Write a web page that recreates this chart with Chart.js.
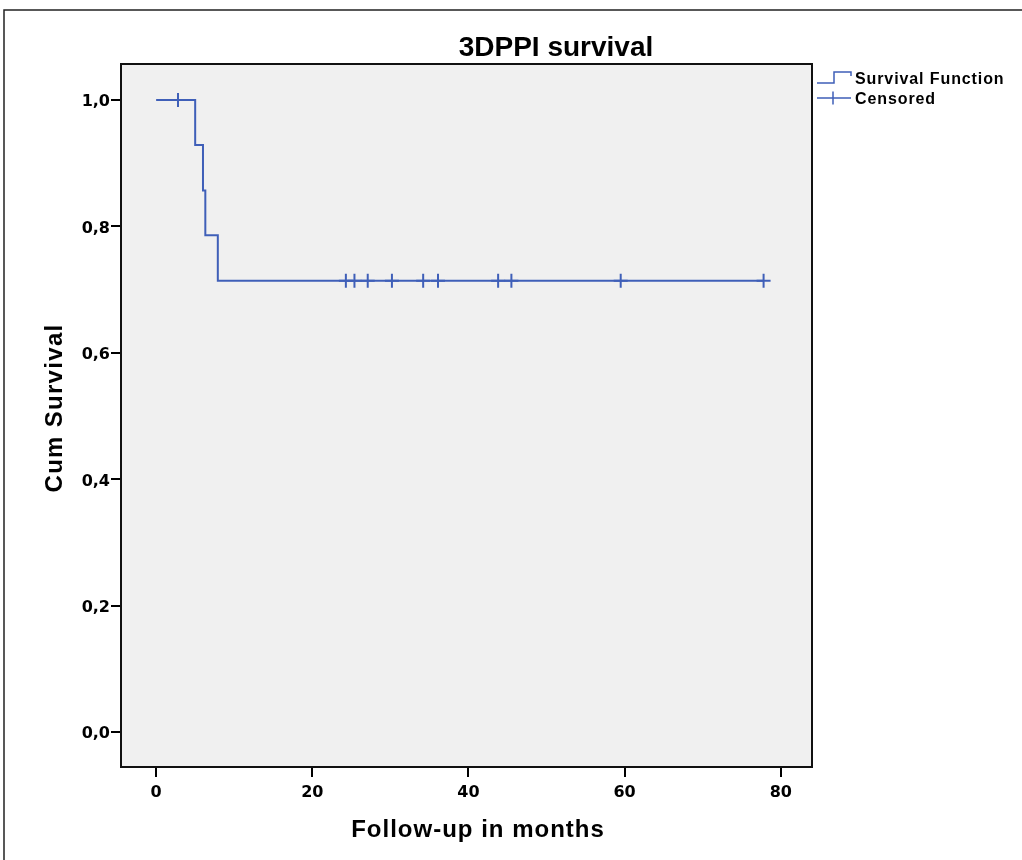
<!DOCTYPE html>
<html>
<head>
<meta charset="utf-8">
<script src="https://cdn.jsdelivr.net/npm/chart.js@4"></script>
<style>
  body { margin: 0; background: #fff; }
  #wrap { width: 1022px; height: 860px; }
</style>
</head>
<body>
<div id="wrap"><canvas id="km" width="1022" height="860"></canvas></div>
<script>
// values
const stepTimes = [0, 5.0, 6.0, 6.3, 7.9, 77.8];
const stepSurvival = [1.0, 0.929, 0.857, 0.786, 0.714, 0.714];
const censorTimes = [2.8, 24.3, 25.4, 27.1, 30.2, 34.2, 36.1, 43.8, 45.5, 59.5, 77.8];
const censorSurvival = [1.0, 0.714, 0.714, 0.714, 0.714, 0.714, 0.714, 0.714, 0.714, 0.714, 0.714];
const xTicks = [0, 20, 40, 60, 80];
const yTicks = [0, 0.2, 0.4, 0.6, 0.8, 1.0];

const blue = "#3f5fb8";

var ctx = document.getElementById("km").getContext("2d");

// background, frame, titles and legend drawn by hand
const decor = {
  id: "decor",
  beforeDraw(chart) {
    const c = chart.ctx, a = chart.chartArea;
    c.save();
    c.fillStyle = "#fff";
    c.fillRect(0, 0, chart.width, chart.height);
    c.fillStyle = "#f0f0f0";
    c.fillRect(a.left, a.top, a.right - a.left, a.bottom - a.top);
    // outer frame
    c.strokeStyle = "#222";
    c.lineWidth = 1.5;
    c.beginPath();
    c.moveTo(4, chart.height + 2);
    c.lineTo(4, 10);
    c.lineTo(chart.width + 2, 10);
    c.stroke();
    c.restore();
  },
  beforeDatasetsDraw(chart) {
    const c = chart.ctx, a = chart.chartArea;
    c.save();
    c.strokeStyle = "#111";
    c.lineWidth = 2;
    c.strokeRect(a.left, a.top, a.right - a.left, a.bottom - a.top);
    c.restore();
  },
  afterDraw(chart) {
    const c = chart.ctx;
    c.save();
    c.fillStyle = "#000";
    // title
    c.font = "bold 28px 'Liberation Sans', Arial, sans-serif";
    c.textAlign = "center";
    c.textBaseline = "alphabetic";
    c.letterSpacing = "0px";
    c.fillText("3DPPI survival", 556, 56);
    // axis titles
    c.font = "bold 24px 'Liberation Sans', Arial, sans-serif";
    c.letterSpacing = "1px";
    c.fillText("Follow-up in months", 478, 837);
    c.translate(62, 408);
    c.rotate(-Math.PI / 2);
    c.letterSpacing = "1.3px";
    c.fillText("Cum Survival", 0, 0);
    c.restore();

    // legend
    c.save();
    c.strokeStyle = blue;
    c.lineWidth = 1.5;
    c.beginPath();
    c.moveTo(817, 83);
    c.lineTo(834, 83);
    c.lineTo(834, 72);
    c.lineTo(851, 72);
    c.lineTo(851, 76);
    c.stroke();
    c.beginPath();
    c.moveTo(817, 98);
    c.lineTo(851, 98);
    c.moveTo(833, 91.5);
    c.lineTo(833, 104.5);
    c.stroke();
    c.fillStyle = "#000";
    c.font = "bold 16px 'Liberation Sans', Arial, sans-serif";
    c.letterSpacing = "0.9px";
    c.textAlign = "left";
    c.fillText("Survival Function", 855, 84);
    c.fillText("Censored", 855, 104);
    c.restore();
  }
};

var config = {
  type: "scatter",
  data: {
    datasets: [
      {
        label: "Survival Function",
        data: stepTimes.map((t, i) => ({ x: t, y: stepSurvival[i] })),
        showLine: true,
        stepped: "before", // horizontal first, then the drop
        borderColor: blue,
        borderWidth: 2,
        pointRadius: 0,
        fill: false,
      },
      {
        label: "Censored",
        data: censorTimes.map((t, i) => ({ x: t, y: censorSurvival[i] })),
        showLine: false,
        pointStyle: "cross",
        pointRadius: 7,
        borderColor: blue,
        borderWidth: 2,
      },
    ],
  },
  options: {
    responsive: false,
    animation: false,
    layout: { padding: { left: 0, top: 64, right: 210, bottom: 0 } },
    plugins: {
      legend: { display: false },
      title: { display: false },
      tooltip: { enabled: false },
    },
    scales: {
      x: {
        type: "linear",
        min: -4.5,
        max: 84,
        afterBuildTicks: (s) => { s.ticks = xTicks.map((v) => ({ value: v })); },
        afterFit: (s) => { s.height = 93; },
        border: { display: false },
        grid: { drawOnChartArea: false, drawTicks: true, tickLength: 10, color: "#000", lineWidth: 2 },
        ticks: {
          color: "#000",
          padding: 6,
          maxRotation: 0,
          font: { family: "'DejaVu Sans'", weight: "bold", size: 16 },
        },
      },
      y: {
        min: -0.055,
        max: 1.057,
        afterBuildTicks: (s) => { s.ticks = yTicks.map((v) => ({ value: v })); },
        afterFit: (s) => { s.width = 121; },
        border: { display: false },
        grid: { drawOnChartArea: false, drawTicks: true, tickLength: 10, color: "#000", lineWidth: 2 },
        ticks: {
          color: "#000",
          padding: 1,
          labelOffset: 2,
          font: { family: "'DejaVu Sans'", weight: "bold", size: 16 },
          callback: function (value) {
            return value.toFixed(1).replace(".", ",");
          },
        },
      },
    },
  },
  plugins: [decor],
};

chart = new Chart(ctx, config);
</script>
</body>
</html>
